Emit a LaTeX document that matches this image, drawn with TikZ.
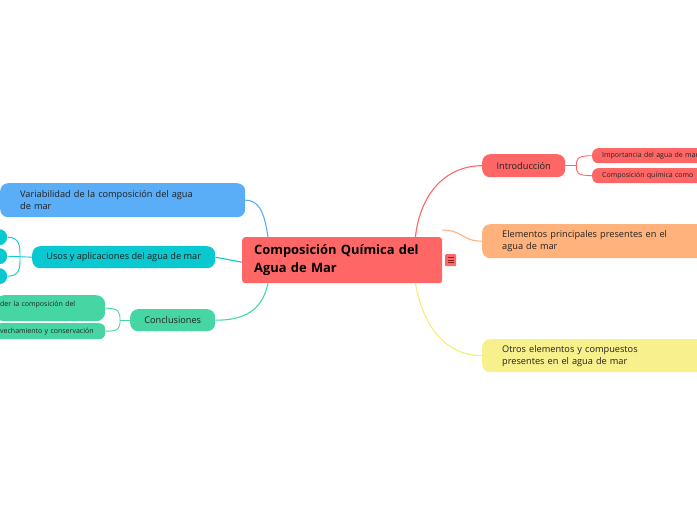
\documentclass[tikz,border=0pt]{standalone}
\usepackage{fontspec}
\setmainfont{Open Sans}
\usetikzlibrary{calc}
\definecolor{cred}{HTML}{FF6666}
\definecolor{corange}{HTML}{FFB27C}
\definecolor{cyellow}{HTML}{F7F08C}
\definecolor{cyline}{HTML}{F5EC7A}
\definecolor{cblue}{HTML}{5AADF7}
\definecolor{ccyan}{HTML}{0AC8CF}
\definecolor{cgreen}{HTML}{46D6A4}
\definecolor{txt}{HTML}{222222}
\definecolor{darkred}{HTML}{8A1F1F}
\begin{document}
\begin{tikzpicture}[x=1pt,y=-1pt,
  box/.style={rounded corners=8pt, inner sep=0pt, anchor=north west, text=txt,
    font=\fontsize{9.2}{12}\selectfont},
  small/.style={box, rounded corners=6pt, font=\fontsize{7}{9}\selectfont},
  conn/.style={line width=1.1pt}
]
\useasboundingbox (0,0) rectangle (697,520);
\clip (0,0) rectangle (697,520);

% central
\node[box, fill=cred, rounded corners=3pt, minimum width=200pt, minimum height=46pt,
  text width=176pt, align=left, text=black,
  font=\bfseries\fontsize{12.9}{18}\selectfont] (c) at (242,237)
  {Composición Química del\\Agua de Mar};
\node[fill=cred, rounded corners=1pt, minimum width=11pt, minimum height=12pt,
  inner sep=0pt, anchor=north west] (menu) at (445,254) {};
\foreach \d in {-2.5,0,2.5}
  \draw[darkred, line width=0.8pt] ([xshift=-3pt,yshift=\d pt]menu.center) -- ([xshift=3pt,yshift=\d pt]menu.center);

% right side
\node[box, fill=cred, minimum width=83pt, minimum height=23pt] (intro) at (482,154) {Introducción};
\node[small, fill=cred, minimum width=140pt, minimum height=15pt, text width=120pt, align=left] (imp) at (592,148) {Importancia del agua de mar};
\node[small, fill=cred, minimum width=140pt, minimum height=15pt, text width=120pt, align=left] (comp) at (592,168) {Composición química como};
\node[box, fill=corange, minimum width=230pt, minimum height=34pt, text width=190pt, align=left] (elem) at (482,224) {Elementos principales presentes en el\\agua de mar};
\node[box, fill=cyellow, minimum width=230pt, minimum height=33pt, text width=190pt, align=left] (otros) at (482,339) {Otros elementos y compuestos\\presentes en el agua de mar};

% left side
\node[box, fill=cblue, minimum width=245pt, minimum height=34pt, text width=205pt, align=left] (var) at (0,183) {Variabilidad de la composición del agua\\de mar};
\node[box, fill=ccyan, minimum width=183pt, minimum height=22pt] (usos) at (32,246) {Usos y aplicaciones del agua de mar};
\node[box, fill=ccyan, minimum width=37pt, minimum height=16pt] (u1) at (-30,229) {};
\node[box, fill=ccyan, minimum width=37pt, minimum height=16pt] (u2) at (-30,248) {};
\node[box, fill=ccyan, minimum width=37pt, minimum height=16pt] (u3) at (-30,268) {};
\node[box, fill=cgreen, minimum width=85pt, minimum height=22pt] (concl) at (130,309) {Conclusiones};
\node[small, fill=cgreen, rounded corners=9pt, minimum width=110pt, minimum height=26pt, text width=100pt, align=left] (k1) at (-5,295) {der la composición del\\\mbox{}};
\node[small, fill=cgreen, minimum width=110pt, minimum height=16pt, text width=100pt, align=left] (k2) at (-5,323) {vechamiento y conservación};

% connectors from central
\draw[conn, cred] ([xshift=-27pt]c.north east) .. controls +(5,-45) and +(-35,0) .. (intro.west);
\draw[conn, corange] ([yshift=7pt]c.north east) .. controls +(20,0) and +(-20,0) .. (elem.west);
\draw[conn, cyline] ([xshift=-27pt]c.south east) .. controls +(8,45) and +(-35,0) .. (otros.west);
\draw[conn, cblue] ([xshift=26pt]c.north west) .. controls +(-4,-28) and +(12,0) .. (var.east);
\draw[conn, ccyan] ([yshift=-2pt]c.west) -- (usos.east);
\draw[conn, cgreen] ([xshift=26pt]c.south west) .. controls +(-6,28) and +(28,0) .. (concl.east);

% sub connectors
\coordinate (ij) at ($(intro.east)+(11,0)$);
\draw[conn, cred, line width=0.9pt] (intro.east) -- (ij);
\draw[conn, cred, line width=0.9pt] (imp.west) .. controls +(-16,0) and +(0,-6) .. (ij) .. controls +(0,6) and +(-16,0) .. (comp.west);

\coordinate (uj) at ($(usos.west)+(-12,0)$);
\draw[conn, ccyan, line width=0.9pt] (usos.west) -- (u2.east);
\draw[conn, ccyan, line width=0.9pt] (u1.east) .. controls +(13,0) and +(0,-10) .. (uj) .. controls +(0,10) and +(13,0) .. (u3.east);

\coordinate (kj) at ($(concl.west)+(-10,0)$);
\draw[conn, cgreen, line width=0.9pt] (concl.west) -- (kj);
\draw[conn, cgreen, line width=0.9pt] (k1.east) .. controls +(14,0) and +(0,-8) .. (kj) .. controls +(0,8) and +(14,0) .. (k2.east);
\end{tikzpicture}
\end{document}
